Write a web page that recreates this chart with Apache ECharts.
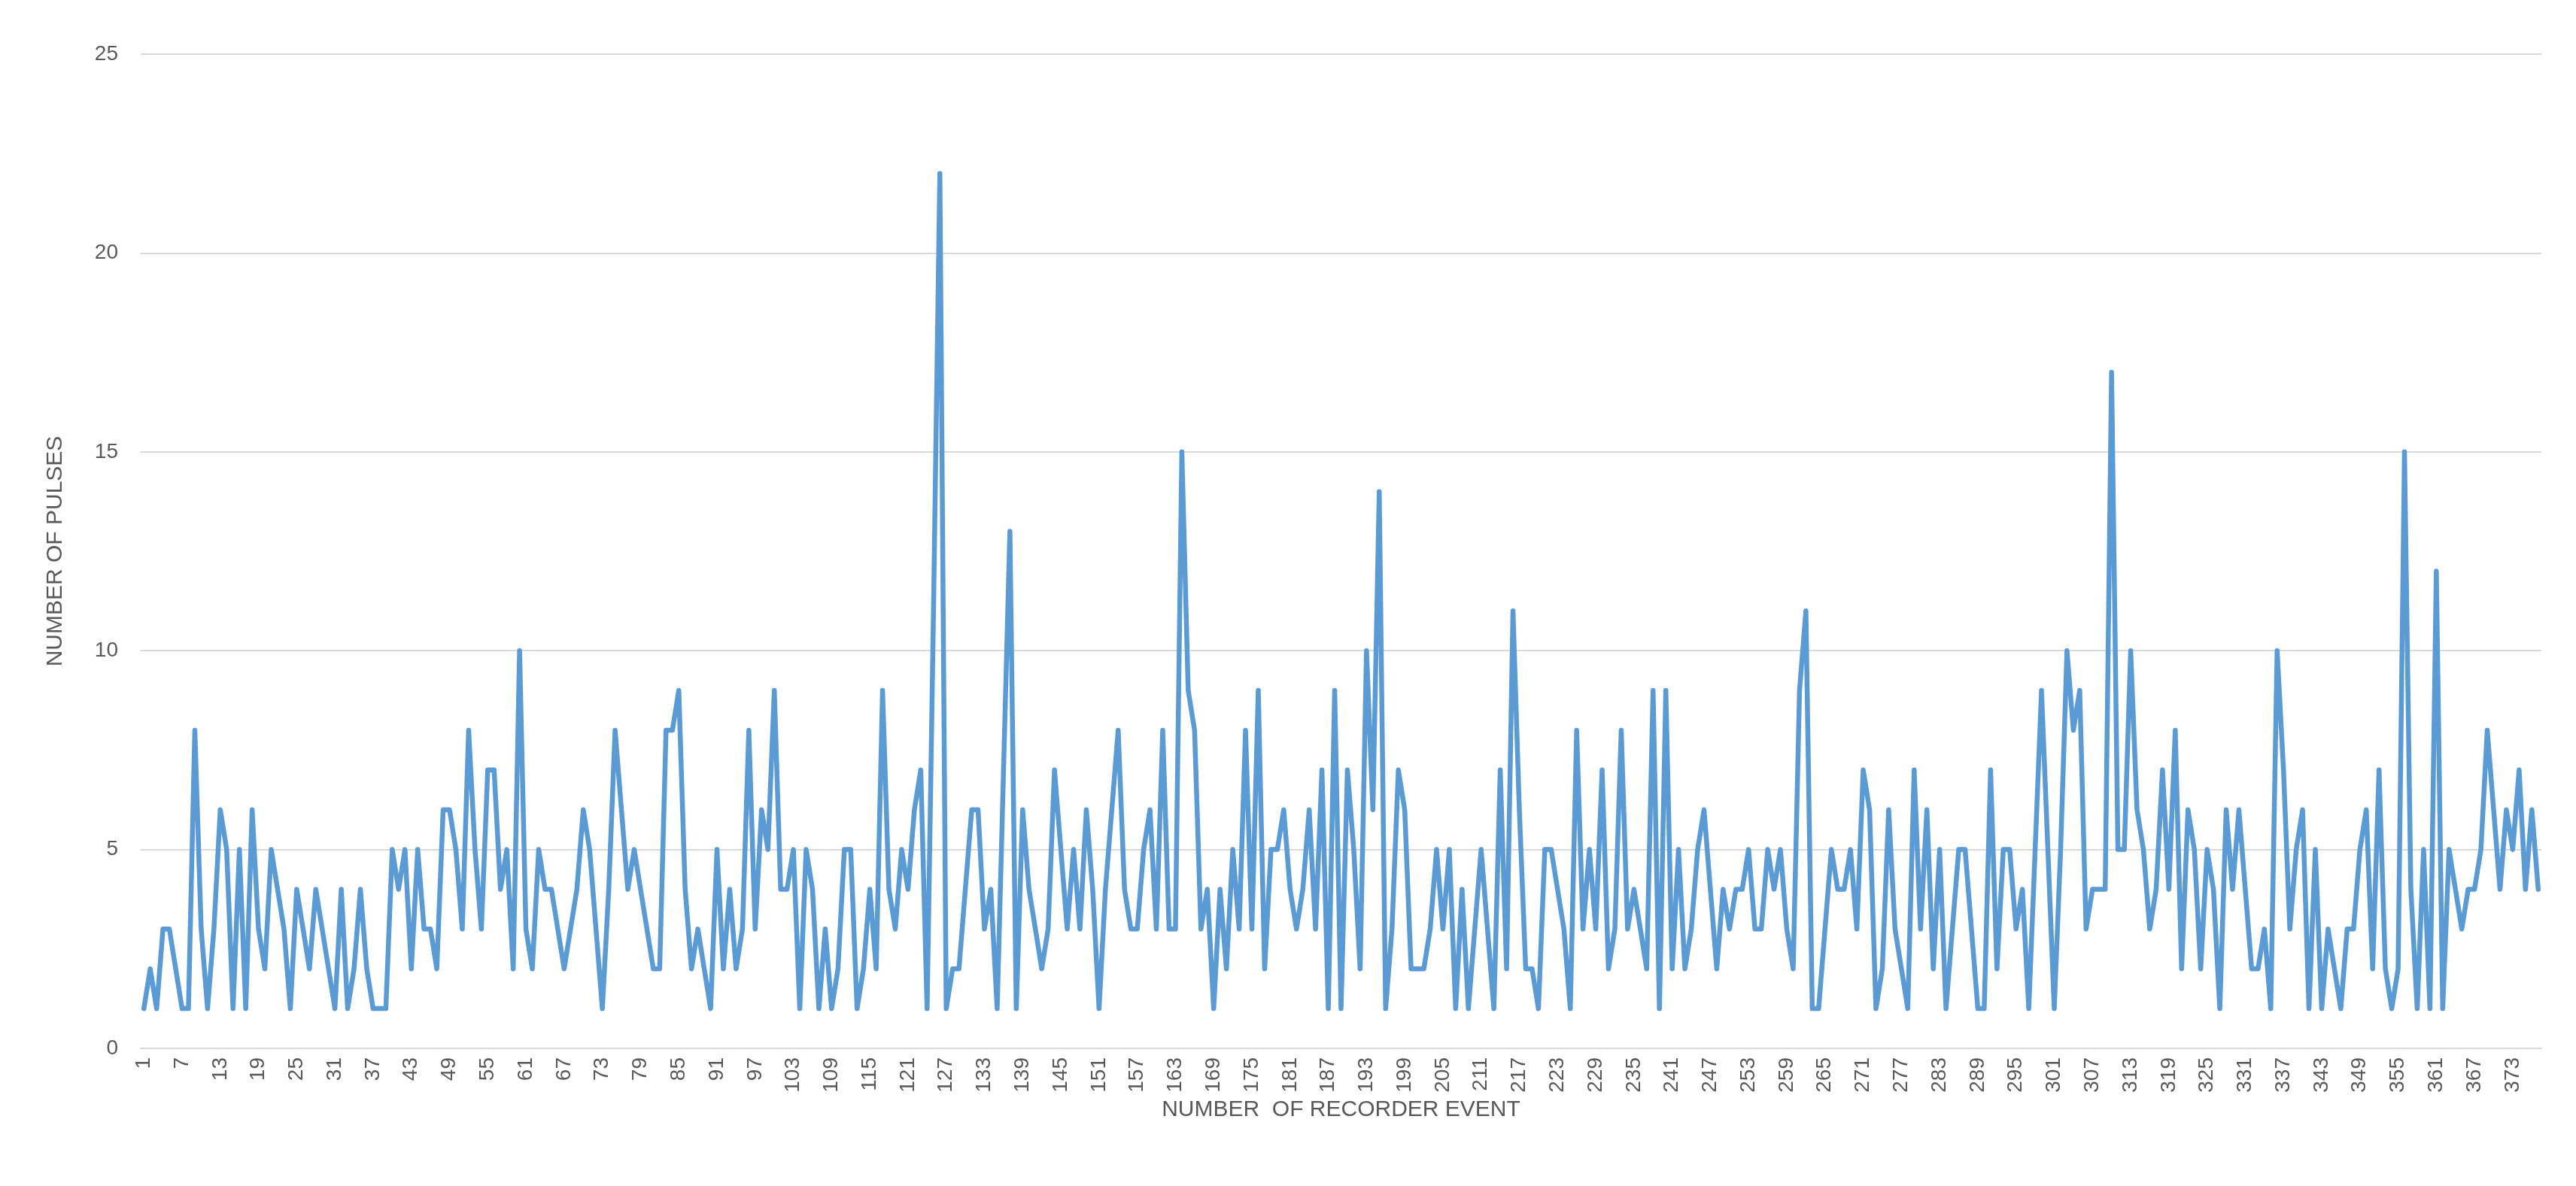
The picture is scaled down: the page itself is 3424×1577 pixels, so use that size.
<!DOCTYPE html>
<html>
<head>
<meta charset="utf-8">
<script src="https://cdn.jsdelivr.net/npm/echarts@6/dist/echarts.min.js"></script>
<style>
  html, body { margin: 0; padding: 0; background: #ffffff; }
  #chart { width: 3424px; height: 1577px; }
</style>
</head>
<body>
<div id="chart"></div>
<script>
// Number of pulses per recorder event
const pulses001to060 = [1,2,1,3,3,2,1,1,8,3, 1,3,6,5,1,5,1,6,3,2, 5,4,3,1,4,3,2,4,3,2, 1,4,1,2,4,2,1,1,1,5, 4,5,2,5,3,3,2,6,6,5, 3,8,5,3,7,7,4,5,2,10];
const pulses061to120 = [3,2,5,4,4,3,2,3,4,6, 5,3,1,4,8,6,4,5,4,3, 2,2,8,8,9,4,2,3,2,1, 5,2,4,2,3,8,3,6,5,9, 4,4,5,1,5,4,1,3,1,2, 5,5,1,2,4,2,9,4,3,5];
const pulses121to180 = [4,6,7,1,11,22,1,2,2,4, 6,6,3,4,1,7,13,1,6,4, 3,2,3,7,5,3,5,3,6,4, 1,4,6,8,4,3,3,5,6,3, 8,3,3,15,9,8,3,4,1,4, 2,5,3,8,3,9,2,5,5,6];
const pulses181to240 = [4,3,4,6,3,7,1,9,1,7, 5,2,10,6,14,1,3,7,6,2, 2,2,3,5,3,5,1,4,1,3, 5,3,1,7,2,11,6,2,2,1, 5,5,4,3,1,8,3,5,3,7, 2,3,8,3,4,3,2,9,1,9];
const pulses241to300 = [2,5,2,3,5,6,4,2,4,3, 4,4,5,3,3,5,4,5,3,2, 9,11,1,1,3,5,4,4,5,3, 7,6,1,2,6,3,2,1,7,3, 6,2,5,1,3,5,5,3,1,1, 7,2,5,5,3,4,1,5,9,5];
const pulses301to377 = [1,5,10,8,9,3,4,4,4,17, 5,5,10,6,5,3,4,7,4,8, 2,6,5,2,5,4,1,6,4,6, 4,2,2,3,1,10,7,3,5,6, 1,5,1,3,2,1,3,3,5,6, 2,7,2,1,2,15,4,1,5,1, 12,1,5,4,3,4,4,5,8,6, 4,6,5,7,4,6,4];

const pulses = [].concat(pulses001to060, pulses061to120, pulses121to180,
                         pulses181to240, pulses241to300, pulses301to377);
const categories = pulses.map((_, i) => String(i + 1));
const yTicks = [0, 5, 10, 15, 20, 25];

const yAxisTitle = 'NUMBER OF PULSES';
const xAxisTitle = 'NUMBER  OF RECORDER EVENT';

const FONT = '"Liberation Sans", Arial, sans-serif';
const GREY_TEXT = '#595959';

const chart = echarts.init(document.getElementById('chart'), null, { renderer: 'canvas' });
chart.setOption({
  backgroundColor: '#ffffff',
  animation: false,
  grid: { left: 187, right: 46, top: 72, bottom: 183, containLabel: false },
  xAxis: {
    type: 'category',
    data: categories,
    boundaryGap: true,
    name: xAxisTitle,
    nameLocation: 'middle',
    nameGap: 62,
    nameTextStyle: { fontFamily: FONT, fontSize: 30, color: GREY_TEXT },
    axisLine: { show: true, lineStyle: { color: '#d9d9d9', width: 2 } },
    axisTick: { show: false },
    axisLabel: {
      interval: 5,
      rotate: 90,
      margin: 12,
      fontFamily: FONT,
      fontSize: 28,
      color: GREY_TEXT
    },
    splitLine: { show: false }
  },
  yAxis: {
    type: 'value',
    min: yTicks[0],
    max: yTicks[yTicks.length - 1],
    interval: 5,
    name: yAxisTitle,
    nameLocation: 'middle',
    nameRotate: 90,
    nameGap: 98,
    nameTextStyle: { fontFamily: FONT, fontSize: 30, color: GREY_TEXT },
    axisLine: { show: false },
    axisTick: { show: false },
    axisLabel: { margin: 30, fontFamily: FONT, fontSize: 28, color: GREY_TEXT },
    splitLine: { show: true, lineStyle: { color: '#d9d9d9', width: 2 } }
  },
  series: [{
    type: 'line',
    data: pulses,
    showSymbol: false,
    symbol: 'none',
    smooth: false,
    lineStyle: { color: '#5b9bd5', width: 6.5, join: 'round', cap: 'round' },
    itemStyle: { color: '#5b9bd5' }
  }]
});
</script>
</body>
</html>
